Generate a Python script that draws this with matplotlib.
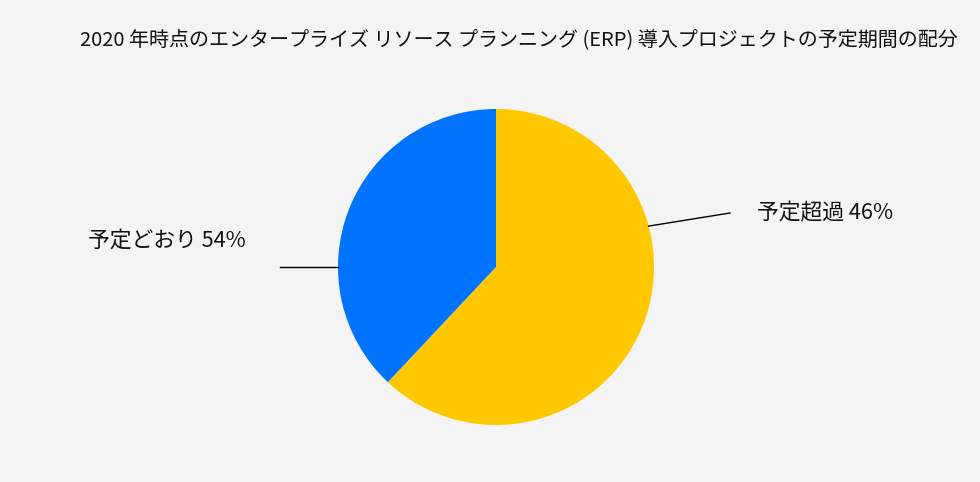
import numpy as np
import matplotlib
matplotlib.use("Agg")
import matplotlib.pyplot as plt

plt.rcParams['font.family'] = ['Noto Sans CJK JP', 'DejaVu Sans']

title = "2020 年時点のエンタープライズ リソース プランニング (ERP) 導入プロジェクトの予定期間の配分"
# wedge sizes as drawn (clockwise from 12 o'clock)
shares = [62, 38]
labels = ["予定超過 46%", "予定どおり 54%"]
colors = ["#FFC800", "#0073FF"]

fig = plt.figure(figsize=(9.8, 4.82), dpi=100)
fig.patch.set_facecolor("#f4f4f4")
ax = fig.add_axes([0, 0, 1, 1])

cx, cy, r = 496, 215, 158
ax.pie(shares, colors=colors, startangle=90, counterclock=False,
       center=(cx, cy), radius=r, frame=True,
       wedgeprops=dict(linewidth=0))
ax.set_xlim(0, 980)
ax.set_ylim(0, 482)
ax.set_aspect("auto")
ax.axis("off")

# leader lines: (angle on rim, end point) and label anchors
leaders = [(15, (730, 269)), (180, (280, 215))]
anchors = [(757, 269), (88, 241)]
for (ang, end), pos, lab in zip(leaders, anchors, labels):
    a = np.deg2rad(ang)
    sx, sy = cx + r * np.cos(a), cy + r * np.sin(a)
    ax.plot([sx, end[0]], [sy, end[1]], color="black", lw=1)
    ax.text(pos[0], pos[1], lab, fontsize=15.7, ha="left", va="center", color="#111111")

ax.text(80, 442, title, fontsize=14.45, ha="left", va="center", color="#111111")

fig.savefig("out.png", dpi=100, facecolor=fig.get_facecolor())
